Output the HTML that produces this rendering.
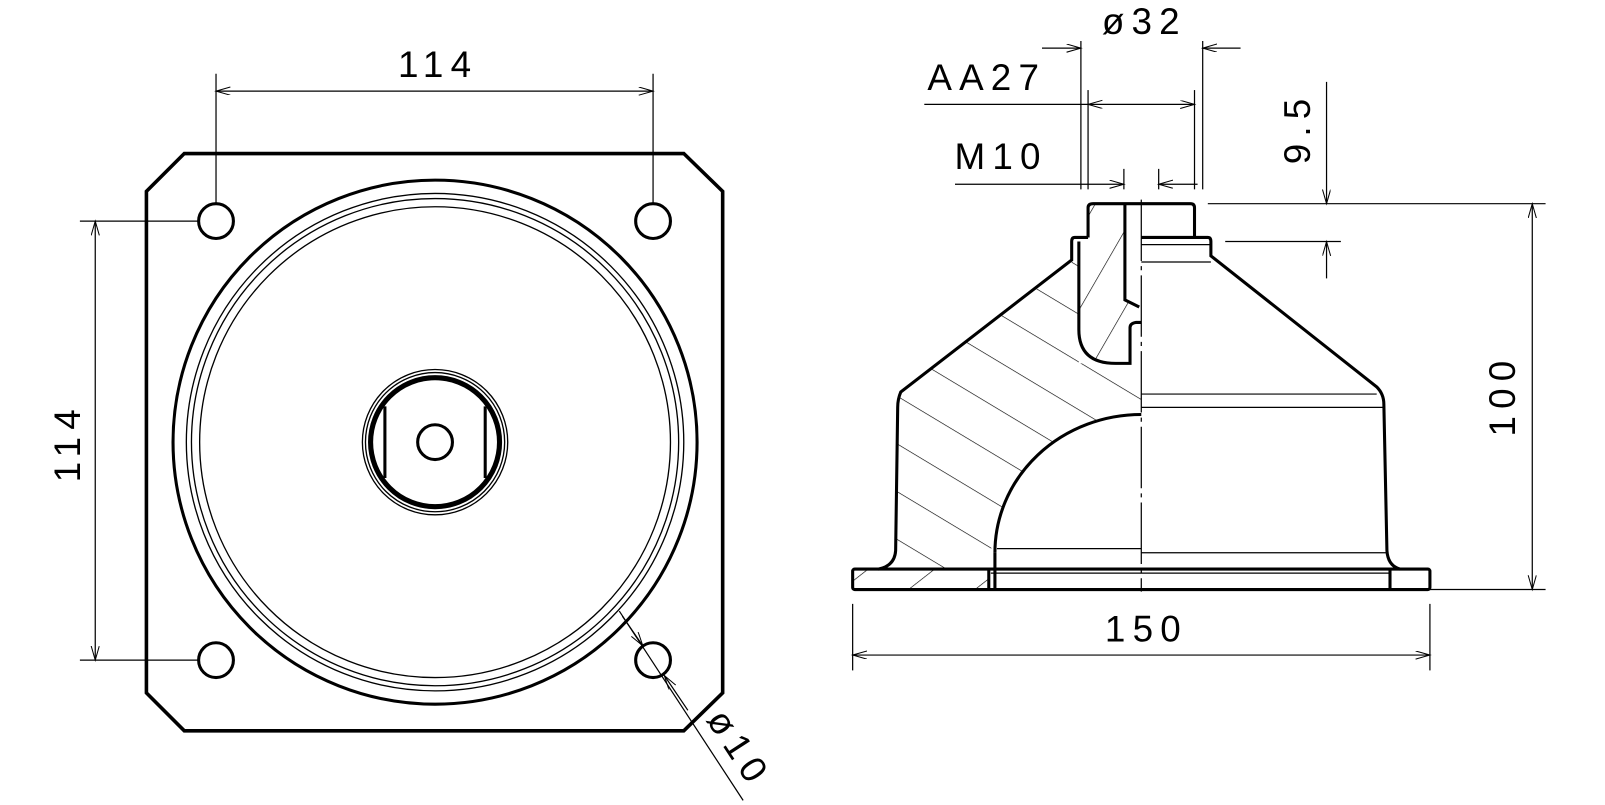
<!DOCTYPE html>
<html><head><meta charset="utf-8"><style>html,body{margin:0;padding:0;background:#fff}svg{display:block}</style></head>
<body>
<svg width="1605" height="805" viewBox="0 0 1568 786.5" xmlns="http://www.w3.org/2000/svg">
<defs>
<marker id="a" markerUnits="userSpaceOnUse" markerWidth="16" markerHeight="10" refX="14" refY="4" orient="auto-start-reverse"><path d="M0,0 L14,4 L0,8" fill="none" stroke="#000" stroke-width="1"/></marker>
<pattern id="h1" patternUnits="userSpaceOnUse" width="400" height="40" patternTransform="rotate(31)"><line x1="0" y1="0" x2="400" y2="0" stroke="#000" stroke-width="1.2"/></pattern>
<pattern id="h2" patternUnits="userSpaceOnUse" width="400" height="38" patternTransform="rotate(-60)"><line x1="0" y1="0" x2="400" y2="0" stroke="#000" stroke-width="1.2"/></pattern>
<pattern id="h3" patternUnits="userSpaceOnUse" width="400" height="40" patternTransform="rotate(-38)"><line x1="0" y1="0" x2="400" y2="0" stroke="#000" stroke-width="1.2"/></pattern>
<clipPath id="c1"><path d="M1050,254 L880,383 Q877,390 877,398 L875,538 Q874,553 858,556 L968,556 L968,540 A147 151 0 0 1 1115 405 L1115,355 L1054,355 L1054,254 Z"/></clipPath>
<clipPath id="c2"><path d="M1054,236 L1063,236 L1063,199 L1099,199 L1099,293 L1115,300 L1115,315 L1104,320 L1104,355 L1090,355 Q1054,355 1054,322 Z"/></clipPath>
<clipPath id="c3"><rect x="833" y="556" width="133" height="20"/></clipPath>
</defs>
<g fill="none" stroke="#000">
<!-- LEFT VIEW -->
<path d="M180,150 L668,150 L706,187 L706,677 L668,714 L180,714 L143,677 L143,187 Z" stroke-width="3.5"/>
<g stroke-width="3"><circle cx="211" cy="216" r="17"/><circle cx="638" cy="216" r="17"/><circle cx="211" cy="645" r="17"/><circle cx="638" cy="645" r="17"/></g>
<circle cx="425" cy="432" r="256" stroke-width="3"/>
<circle cx="425" cy="432" r="243" stroke-width="1.3"/>
<circle cx="425" cy="432" r="238" stroke-width="1.3"/>
<circle cx="425" cy="432" r="230" stroke-width="1.3"/>
<circle cx="425" cy="432" r="71" stroke-width="1.3"/>
<circle cx="425" cy="432" r="68" stroke-width="1.3"/>
<circle cx="425" cy="432" r="63" stroke-width="5"/>
<line x1="376" y1="397" x2="376" y2="467" stroke-width="3"/>
<line x1="474" y1="397" x2="474" y2="467" stroke-width="3"/>
<circle cx="425" cy="432" r="17" stroke-width="3"/>
<g stroke-width="1.2">
<line x1="211" y1="72" x2="211" y2="199"/><line x1="638" y1="72" x2="638" y2="199"/>
<line x1="211" y1="89" x2="638" y2="89" marker-start="url(#a)" marker-end="url(#a)"/>
<line x1="78" y1="216" x2="194" y2="216"/><line x1="78" y1="645" x2="194" y2="645"/>
<line x1="93" y1="216" x2="93" y2="645" marker-start="url(#a)" marker-end="url(#a)"/>
<line x1="605" y1="597" x2="726" y2="782"/>
<line x1="608" y1="602" x2="628" y2="631" marker-end="url(#a)"/>
<line x1="672" y1="694" x2="649" y2="660" marker-end="url(#a)"/>
</g>
<!-- RIGHT VIEW hatches -->
<rect x="800" y="180" width="400" height="420" fill="url(#h1)" stroke="none" clip-path="url(#c1)"/>
<rect x="1000" y="180" width="150" height="200" fill="url(#h2)" stroke="none" clip-path="url(#c2)"/>
<rect x="820" y="540" width="160" height="50" fill="url(#h3)" stroke="none" clip-path="url(#c3)"/>
<g stroke-width="3">
<path d="M1063,232 L1063,203 Q1063,199 1068,199 L1163,199 Q1167,199 1167,203 L1167,232 L1180,232 Q1183,232 1183,236 L1183,250 L1345,378 Q1352,385 1352,395 L1355,538 Q1356,553 1368,556"/>
<path d="M1063,232 L1050,232 Q1047,232 1047,236 L1047,254 L880,383 Q877,390 877,398 L875,538 Q874,553 858,556"/>
<rect x="833" y="556" width="564" height="20" rx="2"/>
<line x1="966" y1="556" x2="966" y2="576"/>
<line x1="972" y1="540" x2="972" y2="576"/>
<path d="M972,540 A143 135 0 0 1 1115 405"/>
<line x1="1358" y1="556" x2="1358" y2="576"/>
<path d="M1099,199 L1099,293 L1113,300"/>
<path d="M1054,236 L1054,322 Q1054,355 1090,355 L1104,355 L1104,320 Q1104,316 1110,315 L1115,315"/>
<line x1="1115" y1="232" x2="1167" y2="232"/>
</g>
<g stroke-width="1.2">
<line x1="1115" y1="239" x2="1183" y2="239"/><line x1="1115" y1="256" x2="1183" y2="256"/>
<line x1="1115" y1="385" x2="1345" y2="385"/><line x1="1115" y1="398" x2="1352" y2="398"/>
<line x1="1115" y1="540" x2="1355" y2="540"/><line x1="974" y1="536" x2="1115" y2="536"/>
<line x1="968" y1="560" x2="1358" y2="560"/>
<line x1="1115" y1="195" x2="1115" y2="578" stroke-dasharray="60,5,4,5"/>
</g>
<!-- RIGHT dims -->
<g stroke-width="1.2">
<line x1="1056" y1="40" x2="1056" y2="185"/><line x1="1175" y1="40" x2="1175" y2="185"/>
<line x1="1018" y1="47" x2="1056" y2="47" marker-end="url(#a)"/>
<line x1="1212" y1="47" x2="1175" y2="47" marker-end="url(#a)"/>
<line x1="1063" y1="88" x2="1063" y2="185"/><line x1="1167" y1="88" x2="1167" y2="185"/>
<line x1="903" y1="102" x2="1063" y2="102"/>
<line x1="1063" y1="102" x2="1167" y2="102" marker-start="url(#a)" marker-end="url(#a)"/>
<line x1="1098" y1="165" x2="1098" y2="185"/><line x1="1132" y1="165" x2="1132" y2="185"/>
<line x1="933" y1="180" x2="1098" y2="180" marker-end="url(#a)"/>
<line x1="1170" y1="180" x2="1132" y2="180" marker-end="url(#a)"/>
<line x1="1180" y1="199" x2="1510" y2="199"/><line x1="1197" y1="236" x2="1310" y2="236"/>
<line x1="1296" y1="80" x2="1296" y2="199" marker-end="url(#a)"/>
<line x1="1296" y1="272" x2="1296" y2="236" marker-end="url(#a)"/>
<line x1="1397" y1="576" x2="1510" y2="576"/>
<line x1="1497" y1="199" x2="1497" y2="576" marker-start="url(#a)" marker-end="url(#a)"/>
<line x1="833" y1="590" x2="833" y2="655"/><line x1="1397" y1="590" x2="1397" y2="655"/>
<line x1="833" y1="640" x2="1397" y2="640" marker-start="url(#a)" marker-end="url(#a)"/>
</g>
</g>
<g font-family="Liberation Sans, sans-serif" font-size="36" fill="#000" letter-spacing="7" text-anchor="middle">
<text x="428" y="75">114</text>
<text transform="translate(78,432) rotate(-90)">114</text>
<text transform="translate(712,738) rotate(57)">ø10</text>
<text x="1118" y="33">ø32</text>
<text x="964" y="88">AA27</text>
<text x="978" y="165">M10</text>
<text transform="translate(1280,125) rotate(-90)">9.5</text>
<text transform="translate(1480,386) rotate(-90)">100</text>
<text x="1120" y="627">150</text>
</g>
</svg>
</body></html>
